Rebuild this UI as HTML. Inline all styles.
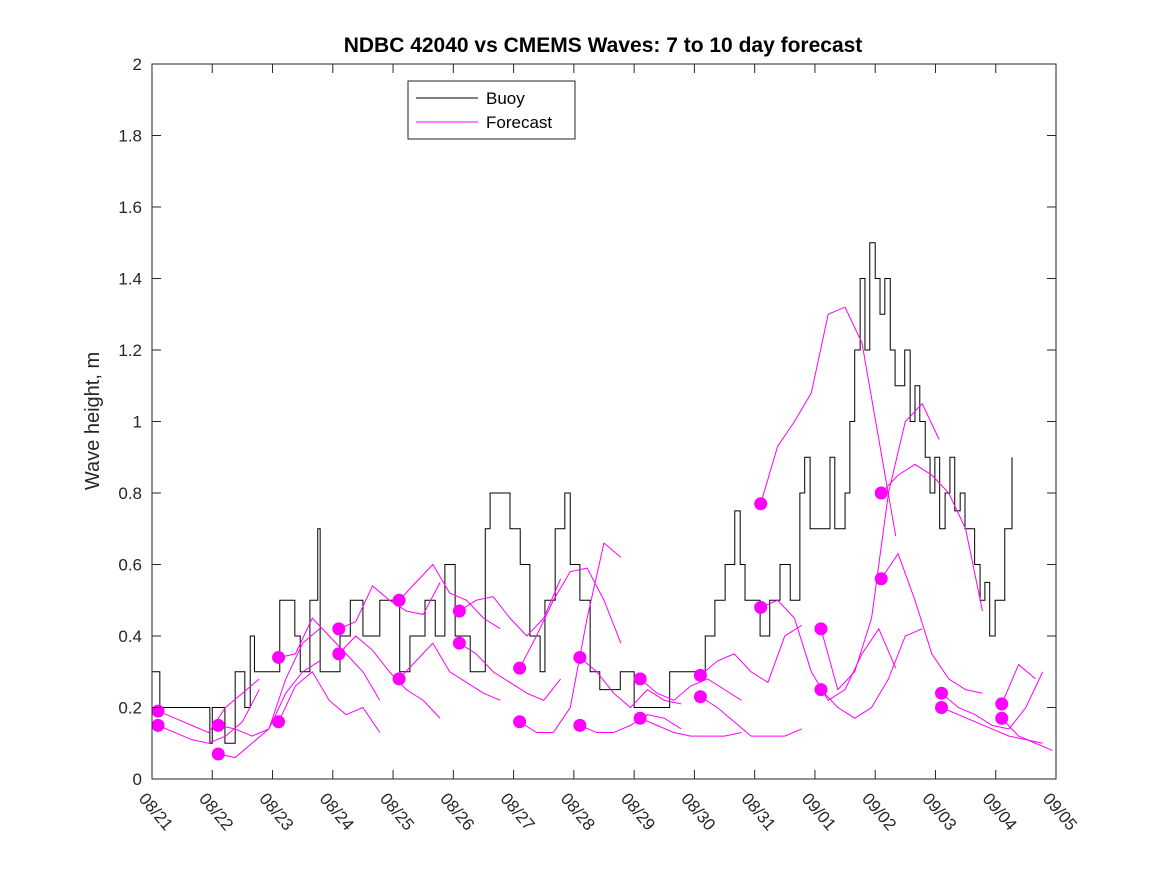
<!DOCTYPE html>
<html><head><meta charset="utf-8"><style>
body{margin:0;background:#fff;}
svg{display:block;font-family:"Liberation Sans","DejaVu Sans",sans-serif;}
</style></head><body>
<svg id="chart" width="1167" height="875" viewBox="0 0 1167 875">
<rect x="0" y="0" width="1167" height="875" fill="#fff"/>
<defs><clipPath id="plotclip"><rect x="152" y="64" width="904" height="715"/></clipPath></defs>
<rect x="152" y="64" width="904" height="715" fill="#fff" stroke="none"/>
<g id="series" clip-path="url(#plotclip)"></g>
<g id="axes"></g>
<text x="603" y="52" text-anchor="middle" font-size="21" font-weight="bold" fill="#000">NDBC 42040 vs CMEMS Waves: 7 to 10 day forecast</text>
<text transform="translate(99,421) rotate(-90)" text-anchor="middle" font-size="20" fill="#262626">Wave height, m</text>
<g>
<rect x="408" y="81" width="167" height="58" fill="#fff" stroke="#262626" stroke-width="1"/>
<line x1="416" y1="98" x2="478" y2="98" stroke="#000" stroke-width="1"/>
<text x="486" y="104" font-size="17" fill="#000">Buoy</text>
<line x1="416" y1="122" x2="478" y2="122" stroke="#ff00ff" stroke-width="1"/>
<text x="486" y="128" font-size="17" fill="#000">Forecast</text>
</g>
</svg>
<script>
// ---- data ----
const xTickLabels = ["08/21","08/22","08/23","08/24","08/25","08/26","08/27","08/28","08/29","08/30","08/31","09/01","09/02","09/03","09/04","09/05"];
const yTicks = [0,0.2,0.4,0.6,0.8,1,1.2,1.4,1.6,1.8,2];
const yTickLabels = ["0","0.2","0.4","0.6","0.8","1","1.2","1.4","1.6","1.8","2"];
const buoyDays = [0,0.13,0.96,1.0,1.21,1.38,1.54,1.63,1.7,2.04,2.12,2.37,2.46,2.62,2.75,2.79,3.12,3.29,3.5,3.78,4.11,4.28,4.53,4.70,4.86,5.03,5.28,5.53,5.61,5.94,6.11,6.27,6.44,6.52,6.69,6.85,6.94,7.10,7.27,7.43,7.77,8.0,8.26,8.43,8.59,9.09,9.18,9.34,9.51,9.67,9.76,9.84,10.09,10.25,10.42,10.59,10.75,10.83,10.92,11.17,11.25,11.33,11.5,11.58,11.66,11.75,11.83,11.91,12.0,12.08,12.16,12.25,12.33,12.41,12.49,12.58,12.66,12.74,12.83,12.91,12.99,13.07,13.16,13.24,13.32,13.41,13.49,13.65,13.74,13.82,13.9,13.99,14.07,14.15,14.27];
const buoyValues = [0.3,0.2,0.1,0.2,0.1,0.3,0.2,0.4,0.3,0.3,0.5,0.4,0.3,0.5,0.7,0.3,0.4,0.5,0.4,0.5,0.3,0.4,0.5,0.4,0.6,0.4,0.3,0.7,0.8,0.7,0.6,0.4,0.3,0.5,0.7,0.8,0.6,0.5,0.3,0.25,0.3,0.2,0.2,0.2,0.3,0.3,0.4,0.5,0.6,0.75,0.6,0.5,0.4,0.5,0.6,0.5,0.8,0.9,0.7,0.7,0.9,0.7,0.8,1.0,1.2,1.4,1.2,1.5,1.4,1.3,1.4,1.2,1.1,1.1,1.2,1.0,1.1,1.0,0.9,0.8,0.9,0.7,0.8,0.9,0.75,0.8,0.7,0.6,0.5,0.55,0.4,0.5,0.5,0.7,0.9];
const forecastStart = [0.1,0.1,1.1,1.1,2.1,2.1,3.1,3.1,4.1,4.1,5.1,5.1,6.1,6.1,7.1,7.1,8.1,8.1,9.1,9.1,10.1,10.1,11.1,11.1,12.1,12.1,13.1,13.1,14.1,14.1];
const forecastStep = 0.28;
const forecastValues = [
[0.19,0.17,0.15,0.13,0.20,0.24,0.28],
[0.15,0.13,0.11,0.10,0.12,0.16,0.25],
[0.15,0.14,0.12,0.14,0.28,0.38,0.42],
[0.07,0.06,0.10,0.14,0.24,0.30,0.33],
[0.34,0.35,0.45,0.40,0.35,0.30,0.22],
[0.16,0.26,0.30,0.22,0.18,0.20,0.13],
[0.42,0.44,0.54,0.50,0.47,0.46,0.55],
[0.35,0.40,0.36,0.30,0.25,0.22,0.17],
[0.50,0.55,0.60,0.52,0.50,0.45,0.42],
[0.28,0.33,0.38,0.30,0.27,0.24,0.22],
[0.47,0.50,0.51,0.45,0.40,0.45,0.56],
[0.38,0.35,0.30,0.27,0.24,0.22,0.28],
[0.31,0.40,0.50,0.58,0.59,0.50,0.38],
[0.16,0.13,0.13,0.20,0.45,0.66,0.62],
[0.34,0.30,0.24,0.20,0.25,0.22,0.21],
[0.15,0.13,0.13,0.15,0.18,0.17,0.14],
[0.28,0.24,0.22,0.26,0.28,0.25,0.22],
[0.17,0.15,0.13,0.12,0.12,0.12,0.13],
[0.29,0.33,0.35,0.30,0.27,0.40,0.43],
[0.23,0.20,0.16,0.12,0.12,0.12,0.14],
[0.77,0.93,1.00,1.08,1.30,1.32,1.22,0.95,0.68],
[0.48,0.50,0.45,0.30,0.22,0.25,0.35,0.42,0.31],
[0.42,0.25,0.30,0.45,0.80,1.00,1.05,0.95],
[0.25,0.20,0.17,0.20,0.28,0.40,0.42],
[0.80,0.85,0.88,0.85,0.80,0.70,0.47],
[0.56,0.63,0.50,0.35,0.28,0.25,0.24],
[0.24,0.20,0.18,0.15,0.14,0.20,0.30],
[0.20,0.18,0.16,0.14,0.12,0.11,0.10],
[0.21,0.32,0.28],
[0.17,0.12,0.10,0.08]
];
// ---- scales ----
const X0=152,X1=1056,Y0=779,Y1=64;
const xs=d=>X0+(X1-X0)*d/15;
const ys=v=>Y0-(Y0-Y1)*v/2;
const NS="http://www.w3.org/2000/svg";
function mk(tag,attrs,parent){const e=document.createElementNS(NS,tag);for(const k in attrs)e.setAttribute(k,attrs[k]);parent.appendChild(e);return e;}
const series=document.getElementById('series');
const axes=document.getElementById('axes');
let d="";
buoyDays.forEach((t,i)=>{const x=xs(t),y=ys(buoyValues[i]);if(i===0)d+=`M${x},${y}`;else d+=`H${x}V${y}`;});
const bl=mk('path',{d:d,fill:'none',stroke:'#000','stroke-width':1},series);


forecastValues.forEach((vals,i)=>{
  const pts=vals.map((v,j)=>`${xs(forecastStart[i]+j*forecastStep)},${ys(v)}`).join(' ');
  const pl=mk('polyline',{points:pts,fill:'none',stroke:'#ff00ff','stroke-width':1},series);
  
  
});
forecastValues.forEach((vals,i)=>{
  const c=mk('circle',{cx:xs(forecastStart[i]),cy:ys(vals[0]),r:6.5,fill:'#ff00ff'},series);
  
  
});
const box=mk('rect',{x:X0,y:Y1,width:X1-X0,height:Y0-Y1,fill:'none',stroke:'#262626','stroke-width':1},axes);


yTicks.forEach((v,i)=>{
  const y=ys(v);
  mk('line',{x1:X0,y1:y,x2:X0+9,y2:y,stroke:'#262626'},axes);
  mk('line',{x1:X1,y1:y,x2:X1-9,y2:y,stroke:'#262626'},axes);
  const t=mk('text',{x:X0-10,y:y+6,'text-anchor':'end','font-size':17,fill:'#262626'},axes);
  t.textContent=yTickLabels[i];
  
  
});
xTickLabels.forEach((lab,i)=>{
  const x=xs(i);
  mk('line',{x1:x,y1:Y0,x2:x,y2:Y0-9,stroke:'#262626'},axes);
  mk('line',{x1:x,y1:Y1,x2:x,y2:Y1+9,stroke:'#262626'},axes);
  const t=mk('text',{transform:`translate(${x-14},${Y0+20}) rotate(50)`,'font-size':17,fill:'#262626'},axes);
  t.textContent=lab;
  
  
});
</script>
</body></html>
